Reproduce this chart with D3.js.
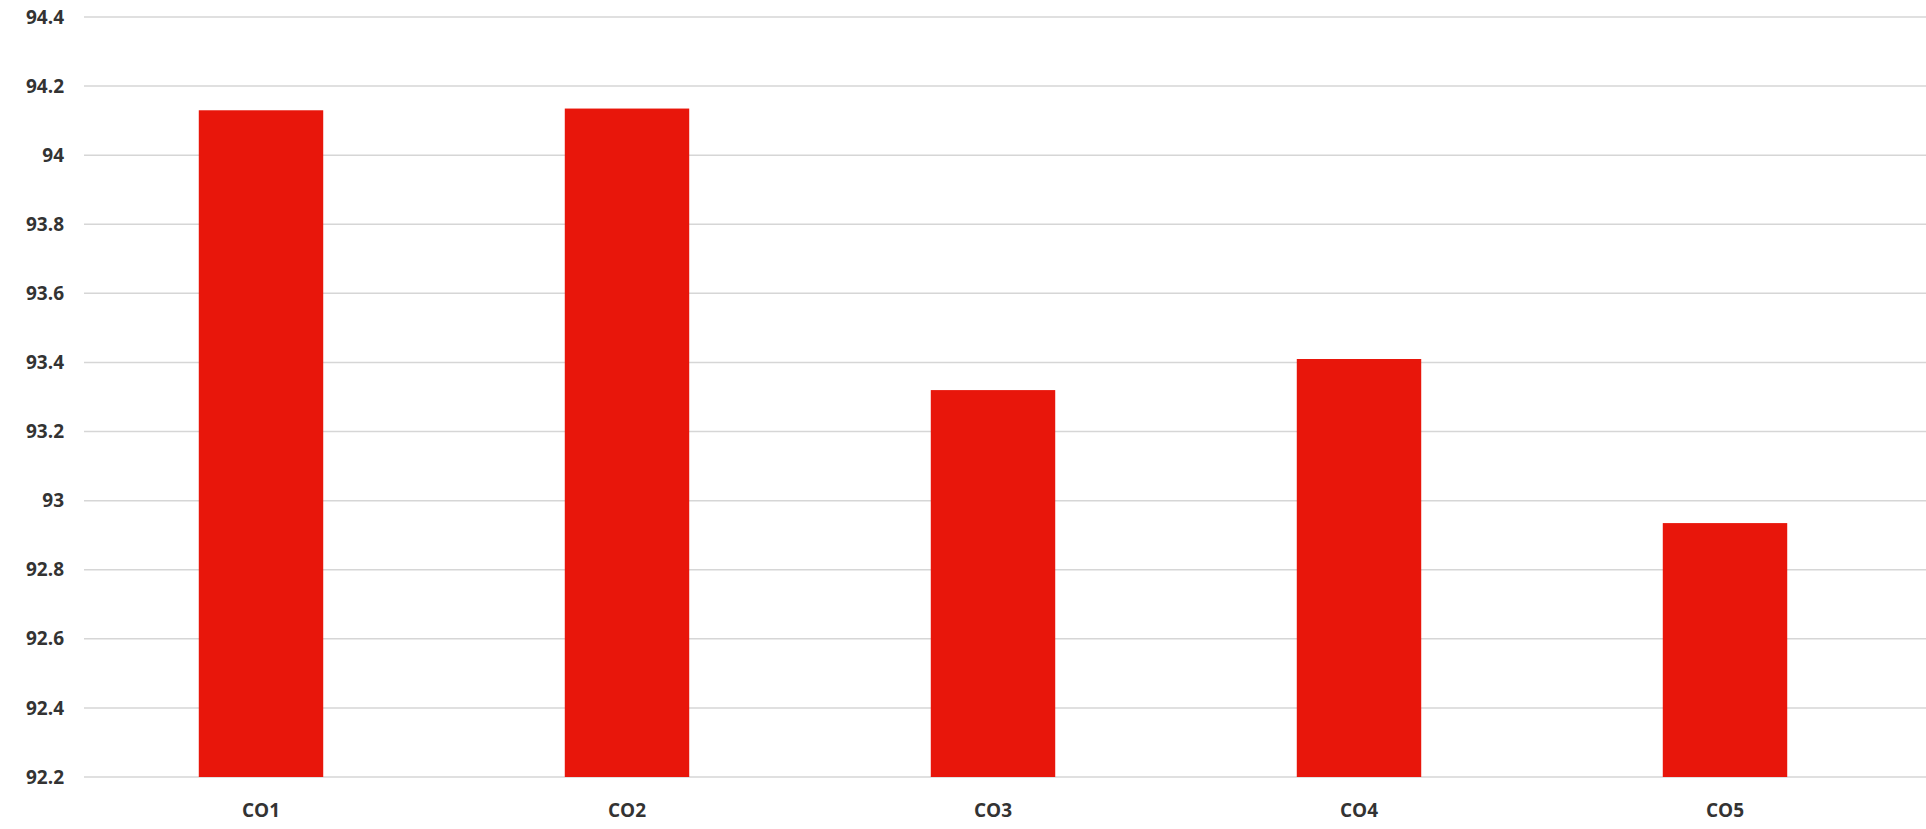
<!DOCTYPE html>
<html>
<head>
<meta charset="utf-8">
<script src="https://cdn.jsdelivr.net/npm/d3@7"></script>
<style>
  html, body { margin: 0; padding: 0; background: #ffffff; }
  svg { display: block; }
</style>
</head>
<body>
<svg id="chart" width="1926" height="829"></svg>
<script>
const categories = ["CO1", "CO2", "CO3", "CO4", "CO5"];
const values = [94.13, 94.135, 93.32, 93.41, 92.935];
const yTicks = [92.2, 92.4, 92.6, 92.8, 93, 93.2, 93.4, 93.6, 93.8, 94, 94.2, 94.4];

const svg = d3.select("#chart");
const W = 1926, H = 829;
const margin = { left: 78, right: 18, top: 17, bottom: 52 };

const x = d3.scaleBand()
  .domain(categories)
  .range([margin.left, W - margin.right])
  .paddingInner(0.66)
  .paddingOuter(0.33);

const y = d3.scaleLinear()
  .domain([92.2, 94.4])
  .range([H - margin.bottom, margin.top]);

// gridlines
svg.append("g")
  .selectAll("line")
  .data(yTicks)
  .join("line")
  .attr("x1", 84)
  .attr("x2", W)
  .attr("y1", d => y(d))
  .attr("y2", d => y(d))
  .attr("stroke", "#d6d6d6")
  .attr("stroke-width", 1.5);

// y axis labels
const yAxis = d3.axisLeft(y)
  .tickValues(yTicks)
  .tickSize(0)
  .tickPadding(0)
  .tickFormat(d => d3.format("")(+d.toFixed(1)));

svg.append("g")
  .attr("transform", "translate(64,0)")
  .call(yAxis)
  .call(g => g.select(".domain").remove())
  .call(g => g.selectAll("text")
    .attr("font-family", "Open Sans, sans-serif")
    .attr("font-size", 19)
    .attr("font-weight", 700)
    .attr("fill", "#333333"));

// bars
svg.append("g")
  .selectAll("rect")
  .data(categories.map((c, i) => ({ c, v: values[i] })))
  .join("rect")
  .attr("x", d => x(d.c))
  .attr("width", x.bandwidth())
  .attr("y", d => y(d.v))
  .attr("height", d => y(92.2) - y(d.v))
  .attr("fill", "#e8160b");

// x axis labels
const xAxis = d3.axisBottom(x).tickSize(0).tickPadding(0);
svg.append("g")
  .attr("transform", `translate(0,${H - margin.bottom + 26})`)
  .call(xAxis)
  .call(g => g.select(".domain").remove())
  .call(g => g.selectAll("text")
    .attr("font-family", "Open Sans, sans-serif")
    .attr("font-size", 19)
    .attr("font-weight", 700)
    .attr("fill", "#333333"));
</script>
</body>
</html>
